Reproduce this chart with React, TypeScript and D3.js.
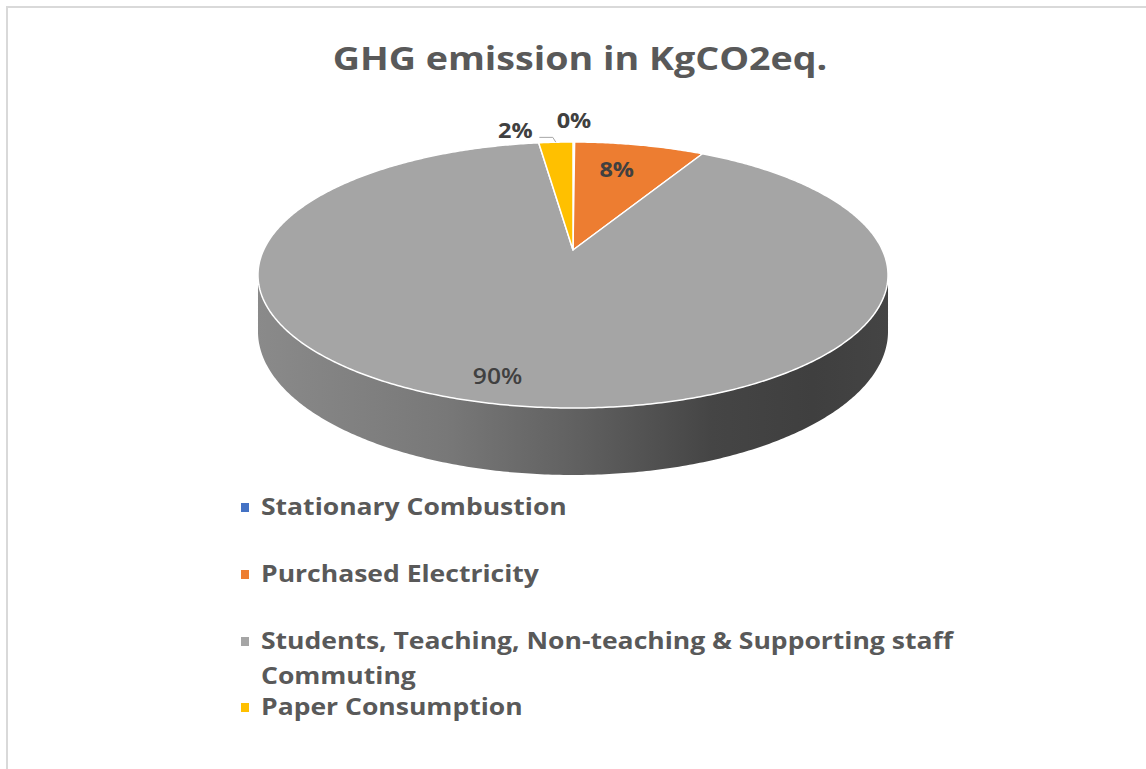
import React, { useEffect, useRef } from 'react';
import * as d3 from 'd3';

const categories = [
  'Stationary Combustion',
  'Purchased Electricity',
  'Students, Teaching, Non-teaching & Supporting staff Commuting',
  'Paper Consumption',
];
const legendLines = [
  ['Stationary Combustion'],
  ['Purchased Electricity'],
  ['Students, Teaching, Non-teaching & Supporting staff', 'Commuting'],
  ['Paper Consumption'],
];
const values = [0.1, 8.0, 89.8, 2.1];
const colors = ['#4472c4', '#ed7d31', '#a5a5a5', '#ffc000'];
const title = 'GHG emission in KgCO2eq.';

// label placement: radius as fraction of pie radius, plus nudges
const labelStyle = [
  { r: 1.25, dx: 0, dy: 0, bold: true },
  { r: 0.68, dx: -4, dy: -5, bold: true },
  { r: 0.85, dx: -17, dy: -1, bold: false },
  { r: 1.25, dx: -37, dy: 10, bold: true },
];

// the source picture is stretched horizontally
const stretch = 1.12;

const App = () => {
  const svgRef = useRef<SVGSVGElement>(null);

  useEffect(() => {
    const svg = d3.select(svgRef.current);
    svg.selectAll('*').remove();

    const width = 1146;
    const height = 769;
    svg.attr('width', width).attr('height', height);

    // chart frame
    svg.append('rect')
      .attr('x', 7).attr('y', 7)
      .attr('width', width + 20).attr('height', height + 20)
      .attr('fill', 'white')
      .attr('stroke', '#d9d9d9')
      .attr('stroke-width', 2);

    svg.append('text')
      .attr('transform', `translate(580,70) scale(1.14,1)`)
      .attr('text-anchor', 'middle')
      .style('font-family', '"Open Sans", sans-serif')
      .style('font-size', '33px')
      .style('font-weight', 700)
      .style('fill', '#595959')
      .text(title);

    // perspective pie geometry
    const cx = 573, cy = 250;
    const a = 309.4, b = 128.3, k = 0.188, depth = 54.4;
    const proj = (theta: number, r: number, down: number): [number, number] => {
      const u = Math.sin(theta) * r;
      const v = -Math.cos(theta) * r;
      const s = 1 / (1 - k * v);
      return [cx + a * u * s, cy + b * v * s + depth * down * s];
    };

    const pie = d3.pie<number>().value(d => d).sort(null);
    const arcs = pie(values);
    const line = d3.line();

    const sample = (t0: number, t1: number, down: number) => {
      const n = Math.max(2, Math.ceil(Math.abs(t1 - t0) / 0.01));
      return d3.range(n + 1).map(i => proj(t0 + (t1 - t0) * i / n, 1, down));
    };

    const defs = svg.append('defs');
    const g = svg.append('g');

    // side walls (visible front part)
    const frontStart = Math.acos(-k);
    const frontEnd = 2 * Math.PI - frontStart;
    arcs.forEach((d, i) => {
      const t0 = Math.max(d.startAngle, frontStart);
      const t1 = Math.min(d.endAngle, frontEnd);
      if (t1 <= t0) return;
      const base = d3.color(colors[i])!;
      const gid = `side-${i}`;
      const grad = defs.append('linearGradient')
        .attr('id', gid)
        .attr('gradientUnits', 'userSpaceOnUse')
        .attr('x1', cx - a * 1.02).attr('x2', cx + a * 1.02)
        .attr('y1', 0).attr('y2', 0);
      [[0, 0.5], [0.3, 0.9], [0.5, 1.5], [0.72, 2.45], [0.88, 2.7], [1, 2.5]].forEach(([o, dk]) => {
        grad.append('stop').attr('offset', o).attr('stop-color', base.darker(dk).formatHex());
      });
      const top = sample(t0, t1, 0);
      const bottom = sample(t1, t0, 1);
      g.append('path')
        .attr('d', line([...top, ...bottom])! + 'Z')
        .attr('fill', `url(#${gid})`);
    });

    // top faces
    arcs.forEach((d, i) => {
      const pts = [proj(0, 0, 0), ...sample(d.startAngle, d.endAngle, 0)];
      g.append('path')
        .attr('d', line(pts)! + 'Z')
        .attr('fill', colors[i])
        .attr('stroke', 'white')
        .attr('stroke-width', 1.5)
        .attr('stroke-linejoin', 'round');
    });

    // data labels
    const total = d3.sum(values);
    arcs.forEach((d, i) => {
      const mid = (d.startAngle + d.endAngle) / 2;
      const st = labelStyle[i];
      const [x, y] = proj(mid, st.r, 0);
      g.append('text')
        .attr('transform', `translate(${x + st.dx},${y + st.dy}) scale(${stretch},1)`)
        .attr('dy', '0.36em')
        .attr('text-anchor', 'middle')
        .style('font-family', '"Open Sans", sans-serif')
        .style('font-size', st.bold ? '21px' : '22px')
        .style('font-weight', st.bold ? 700 : 600)
        .style('fill', '#404040')
        .text(`${Math.round(d.data / total * 100)}%`);
    });

    // leader line for the paper slice label
    const paper = arcs[3];
    const pmid = (paper.startAngle + paper.endAngle) / 2;
    const [lx, ly] = proj(pmid, 1.25, 0);
    const edge = proj(pmid, 1, 0);
    const lstart: [number, number] = [lx + labelStyle[3].dx + 24, ly + labelStyle[3].dy + 7];
    g.append('path')
      .attr('d', line([lstart, [edge[0] - 3, lstart[1]], edge]))
      .attr('fill', 'none')
      .attr('stroke', '#a6a6a6')
      .attr('stroke-width', 1);

    // legend
    const legendX = 241;
    const rowTops = [515, 582, 649, 715];
    const legend = svg.append('g');
    categories.forEach((c, i) => {
      const item = legend.append('g').attr('transform', `translate(${legendX}, ${rowTops[i]})`);
      item.append('rect')
        .attr('x', 0).attr('y', -12)
        .attr('width', 8).attr('height', 9)
        .attr('fill', colors[i]);
      const txt = item.append('text')
        .attr('transform', 'translate(20,0) scale(1.105,1)')
        .style('font-family', '"Open Sans", sans-serif')
        .style('font-size', '24px')
        .style('font-weight', 700)
        .style('fill', '#595959');
      legendLines[i].forEach((l, j) => {
        txt.append('tspan').attr('x', 0).attr('dy', j === 0 ? 0 : 35).text(l);
      });
    });
  }, []);

  return (
    <svg ref={svgRef} style={{ position: 'absolute', left: 0, top: 0 }} />
  );
};

export default App;
